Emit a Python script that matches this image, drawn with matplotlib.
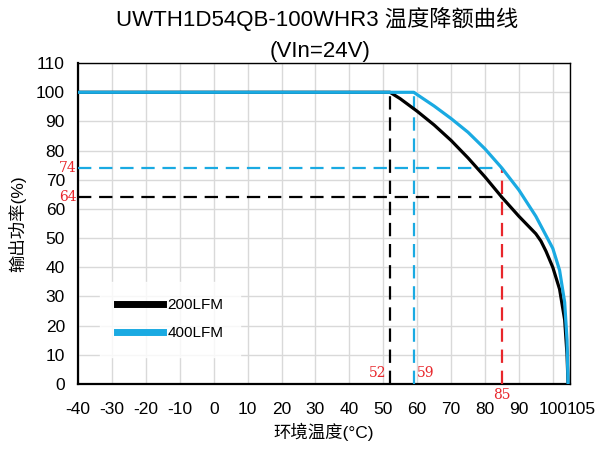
import numpy as np
import matplotlib.pyplot as plt
import matplotlib.transforms as mtransforms

plt.rcParams['font.family'] = ['Liberation Sans', 'Noto Sans CJK SC']
plt.rcParams['axes.unicode_minus'] = False

# 降额曲线数据 (温度, 输出功率%)
t_200 = [-40, 52, 55, 60, 65, 70, 75, 80, 85, 90, 95, 96.5, 98, 100, 102, 103.5, 104.2, 104.5]
p_200 = [100, 100, 97.8, 93.5, 88.8, 83.5, 77.5, 71, 64, 57.5, 51.5, 49, 45.5, 40, 32.5, 22, 10, 0]
t_400 = [-40, 59, 60, 65, 70, 75, 80, 85, 90, 95, 100, 102, 103.5, 104.2, 104.5]
p_400 = [100, 100, 99.2, 95.3, 91, 86.3, 80.6, 74, 66.5, 57.5, 46.5, 39, 28, 15, 0]

# 标注点
knee_200, knee_400 = 52, 59
t_mark = 85
p_mark_200, p_mark_400 = 64, 74

xticks = list(range(-40, 101, 10)) + [105]
yticks = list(range(0, 111, 10))

c_black = '#000000'
c_blue = '#1AAAE2'
c_red = '#E8262B'

fig = plt.figure(figsize=(6.01, 4.5), dpi=100)
ax = fig.add_axes([0.13, 0.1467, 0.818, 0.713])

ax.plot(t_200, p_200, color=c_black, lw=2.3, label='200LFM', zorder=5)
ax.plot(t_400, p_400, color=c_blue, lw=2.3, label='400LFM', zorder=5)

dash = (0, (6, 3.5))
ax.plot([knee_200, knee_200], [0, 100], color=c_black, lw=1.6, ls=dash, zorder=4)
ax.plot([knee_400, knee_400], [0, 100], color=c_blue, lw=1.6, ls=dash, zorder=4)
ax.plot([-40, t_mark], [p_mark_200, p_mark_200], color=c_black, lw=1.6, ls=dash, zorder=4)
ax.plot([-40, t_mark], [p_mark_400, p_mark_400], color=c_blue, lw=1.6, ls=dash, zorder=4)
ax.plot([t_mark, t_mark], [0, p_mark_400], color=c_red, lw=1.6, ls=dash, zorder=4)

# 红色数值标注
sf = 'DejaVu Serif'
ax.text(knee_200 - 1.2, 1.5, str(knee_200), color=c_red, fontsize=10, family=sf, ha='right', va='bottom')
ax.text(knee_400 + 1.0, 1.5, str(knee_400), color=c_red, fontsize=10, family=sf, ha='left', va='bottom')
ax.text(t_mark, -1.5, str(t_mark), color=c_red, fontsize=10, family=sf, ha='center', va='top', clip_on=False)
ax.text(-40.5, p_mark_400, str(p_mark_400), color=c_red, fontsize=10, family=sf, ha='right', va='center', clip_on=False)
ax.text(-40.5, p_mark_200, str(p_mark_200), color=c_red, fontsize=10, family=sf, ha='right', va='center', clip_on=False)

ax.set_xlim(-40, 105)
ax.set_ylim(0, 110)
ax.set_xticks(xticks)
ax.set_yticks(yticks)
ax.tick_params(length=0, labelsize=12.5)
ax.tick_params(axis='x', pad=13)
ax.tick_params(axis='y', pad=9.5)
# 105 的标签往右挪一点, 跟 100 挨着
lbl = ax.get_xticklabels()[-1]
lbl.set_transform(lbl.get_transform() + mtransforms.ScaledTranslation(0.11, 0, fig.dpi_scale_trans))

ax.grid(True, color='#D9D9D9', lw=1.0)
ax.set_axisbelow(True)
for s in ['left', 'bottom']:
    ax.spines[s].set_linewidth(1.6)
for s in ['top', 'right']:
    ax.spines[s].set_linewidth(1.0)

leg = ax.legend(loc='lower left', bbox_to_anchor=(0.045, 0.084), fontsize=11,
                handlelength=3.0, handletextpad=0.3, borderpad=1.1, labelspacing=0.9,
                frameon=True, fancybox=False, borderaxespad=0)
leg.get_frame().set_facecolor('white')
leg.get_frame().set_edgecolor('white')
for h in leg.get_lines():
    h.set_linewidth(5)

ax.set_xlabel('环境温度(°C)', fontsize=12.5, labelpad=4)
ax.set_ylabel('输出功率(%)', fontsize=12.5, labelpad=7)
fig.text(0.527, 1 - 19 / 450, 'UWTH1D54QB-100WHR3 温度降额曲线', fontsize=16, ha='center', va='center')
fig.text(0.532, 1 - 52 / 450, '(VIn=24V)', fontsize=16, ha='center', va='center')

plt.savefig('out.png')
